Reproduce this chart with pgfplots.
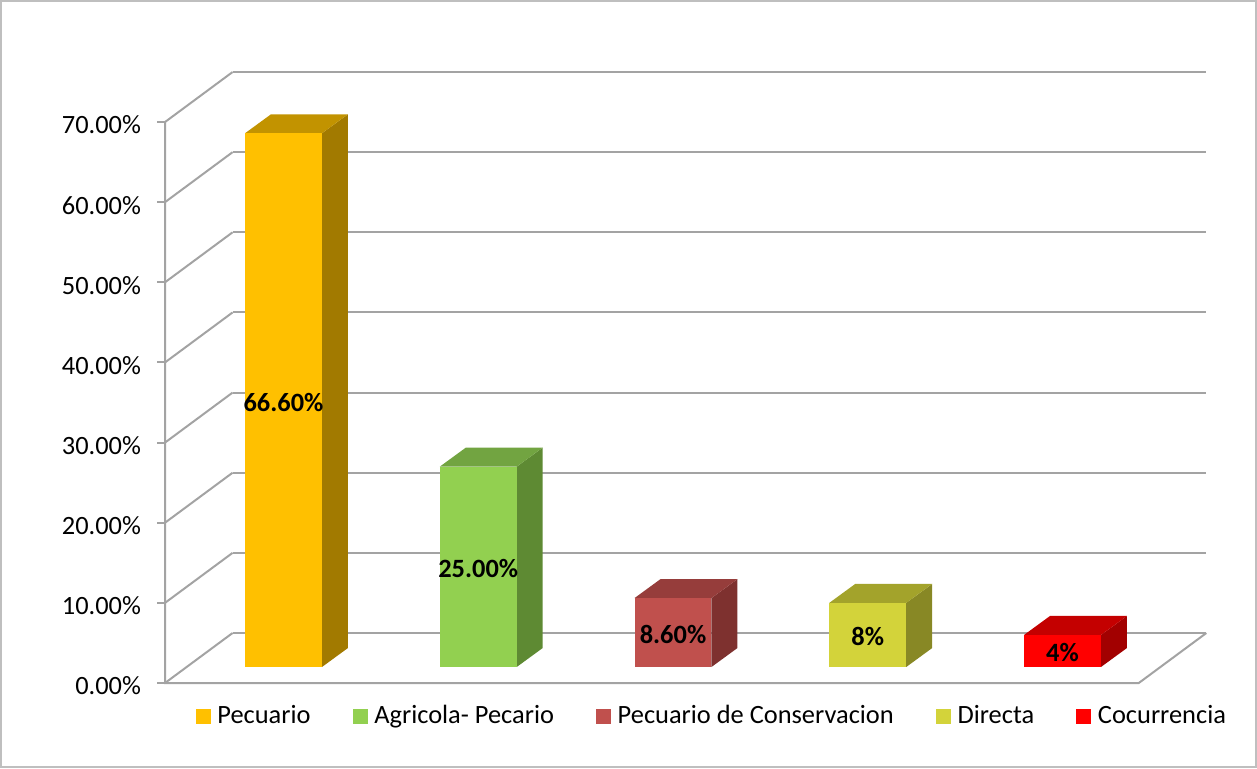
\documentclass[border=0pt]{standalone}
\usepackage{pgfplots}
\pgfplotsset{compat=1.18}
\usepackage{fontspec}
\setmainfont{Carlito}
\definecolor{gridc}{HTML}{A3A3A3}
\definecolor{framec}{HTML}{BFBFBF}
\definecolor{pecF}{HTML}{FFC000}\definecolor{pecT}{HTML}{C29300}\definecolor{pecS}{HTML}{A27A00}
\definecolor{agrF}{HTML}{92D050}\definecolor{agrT}{HTML}{72A441}\definecolor{agrS}{HTML}{5E8A33}
\definecolor{conF}{HTML}{C0504D}\definecolor{conT}{HTML}{963D3B}\definecolor{conS}{HTML}{7E312F}
\definecolor{dirF}{HTML}{D3D33A}\definecolor{dirT}{HTML}{A3A32B}\definecolor{dirS}{HTML}{888825}
\definecolor{cocF}{HTML}{FF0000}\definecolor{cocT}{HTML}{C40000}\definecolor{cocS}{HTML}{A20000}
\begin{document}
\begin{tikzpicture}
\useasboundingbox (0,0) rectangle (628.5pt,-384pt);
\draw[framec, line width=1pt] (0.5pt,-0.5pt) rectangle (628pt,-383.5pt);
\begin{axis}[
  anchor=south west, at={(82.5pt,-341.5pt)},
  x=97.375pt, y=4.007pt,
  xmin=0, xmax=5.36, ymin=0, ymax=77,
  clip=false,
  axis line style={draw=none},
  xtick=\empty,
  ytick={0,10,20,30,40,50,60,70},
  yticklabels={0.00\%,10.00\%,20.00\%,30.00\%,40.00\%,50.00\%,60.00\%,70.00\%},
  ytick pos=left, tick align=outside, major tick length=4pt,
  tick style={draw=gridc, line width=1pt},
  yticklabel style={font=\fontsize{13.2pt}{15pt}\selectfont, anchor=east, xshift=-4.5pt, yshift=-1.5pt},
  legend style={at={(axis cs:2.82,-4.12)}, anchor=center, draw=none, fill=none,
    font=\fontsize{13.2pt}{15pt}\selectfont, legend columns=5,
    /tikz/every even column/.append style={column sep=17.8pt},
    nodes={inner xsep=3.3pt}},
  legend image code/.code={\fill[#1] (0pt,-3.75pt) rectangle (7.5pt,3.75pt);},
]
% gridlines: side wall diagonals
\addplot[draw=gridc, line width=1pt, forget plot] coordinates {(0,0)(0.347,6.24)};
\addplot[draw=gridc, line width=1pt, forget plot] coordinates {(0,10)(0.347,16.24)};
\addplot[draw=gridc, line width=1pt, forget plot] coordinates {(0,20)(0.347,26.24)};
\addplot[draw=gridc, line width=1pt, forget plot] coordinates {(0,30)(0.347,36.24)};
\addplot[draw=gridc, line width=1pt, forget plot] coordinates {(0,40)(0.347,46.24)};
\addplot[draw=gridc, line width=1pt, forget plot] coordinates {(0,50)(0.347,56.24)};
\addplot[draw=gridc, line width=1pt, forget plot] coordinates {(0,60)(0.347,66.24)};
\addplot[draw=gridc, line width=1pt, forget plot] coordinates {(0,70)(0.347,76.24)};
% back wall
\addplot[draw=gridc, line width=1pt, forget plot] coordinates {(0.347,6.24)(5.347,6.24)};
\addplot[draw=gridc, line width=1pt, forget plot] coordinates {(0.347,16.24)(5.347,16.24)};
\addplot[draw=gridc, line width=1pt, forget plot] coordinates {(0.347,26.24)(5.347,26.24)};
\addplot[draw=gridc, line width=1pt, forget plot] coordinates {(0.347,36.24)(5.347,36.24)};
\addplot[draw=gridc, line width=1pt, forget plot] coordinates {(0.347,46.24)(5.347,46.24)};
\addplot[draw=gridc, line width=1pt, forget plot] coordinates {(0.347,56.24)(5.347,56.24)};
\addplot[draw=gridc, line width=1pt, forget plot] coordinates {(0.347,66.24)(5.347,66.24)};
\addplot[draw=gridc, line width=1pt, forget plot] coordinates {(0.347,76.24)(5.347,76.24)};
% floor and vertical axis
\addplot[draw=gridc, line width=1pt, forget plot] coordinates {(0,70)(0,0)(5,0)(5.347,6.24)};
% Pecuario 66.6
\addplot[fill=pecS, draw=none, forget plot] coordinates {(0.806,2)(0.9395,4.37)(0.9395,70.97)(0.806,68.6)} -- cycle;
\addplot[fill=pecT, draw=none, forget plot] coordinates {(0.411,68.6)(0.806,68.6)(0.9395,70.97)(0.5445,70.97)} -- cycle;
\addplot[fill=pecF, draw=none] coordinates {(0.411,2)(0.806,2)(0.806,68.6)(0.411,68.6)} -- cycle;
\addlegendentry{Pecuario}
% Agricola 25
\addplot[fill=agrS, draw=none, forget plot] coordinates {(1.806,2)(1.9395,4.37)(1.9395,29.37)(1.806,27)} -- cycle;
\addplot[fill=agrT, draw=none, forget plot] coordinates {(1.411,27)(1.806,27)(1.9395,29.37)(1.5445,29.37)} -- cycle;
\addplot[fill=agrF, draw=none] coordinates {(1.411,2)(1.806,2)(1.806,27)(1.411,27)} -- cycle;
\addlegendentry{Agricola- Pecario}
% Conservacion 8.6
\addplot[fill=conS, draw=none, forget plot] coordinates {(2.806,2)(2.9395,4.37)(2.9395,12.97)(2.806,10.6)} -- cycle;
\addplot[fill=conT, draw=none, forget plot] coordinates {(2.411,10.6)(2.806,10.6)(2.9395,12.97)(2.5445,12.97)} -- cycle;
\addplot[fill=conF, draw=none] coordinates {(2.411,2)(2.806,2)(2.806,10.6)(2.411,10.6)} -- cycle;
\addlegendentry{Pecuario de Conservacion}
% Directa 8
\addplot[fill=dirS, draw=none, forget plot] coordinates {(3.806,2)(3.9395,4.37)(3.9395,12.37)(3.806,10)} -- cycle;
\addplot[fill=dirT, draw=none, forget plot] coordinates {(3.411,10)(3.806,10)(3.9395,12.37)(3.5445,12.37)} -- cycle;
\addplot[fill=dirF, draw=none] coordinates {(3.411,2)(3.806,2)(3.806,10)(3.411,10)} -- cycle;
\addlegendentry{Directa}
% Cocurrencia 4
\addplot[fill=cocS, draw=none, forget plot] coordinates {(4.806,2)(4.9395,4.37)(4.9395,8.37)(4.806,6)} -- cycle;
\addplot[fill=cocT, draw=none, forget plot] coordinates {(4.411,6)(4.806,6)(4.9395,8.37)(4.5445,8.37)} -- cycle;
\addplot[fill=cocF, draw=none] coordinates {(4.411,2)(4.806,2)(4.806,6)(4.411,6)} -- cycle;
\addlegendentry{Cocurrencia}
% value labels
\addplot[draw=none, mark=none, forget plot, nodes near coords, point meta=explicit symbolic,
  nodes near coords style={anchor=center, font=\fontsize{13.2pt}{15pt}\selectfont\bfseries, text=black, inner sep=0pt, yshift=-1pt}]
  coordinates {(0.6085,35.3)[66.60\%] (1.6085,14.5)[25.00\%] (2.6085,6.3)[8.60\%] (3.6085,6.0)[8\%] (4.6085,4.0)[4\%]};
\end{axis}
\end{tikzpicture}
\end{document}
